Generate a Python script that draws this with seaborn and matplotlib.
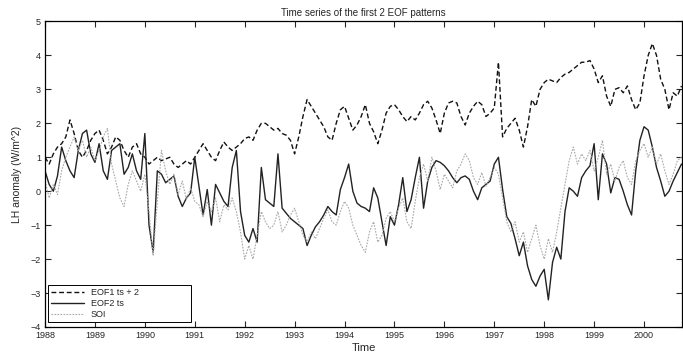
import numpy as np
import pandas as pd
import matplotlib
matplotlib.use("Agg")
import matplotlib.pyplot as plt
import seaborn as sns

# ---------------- data (monthly, starting Jan 1988) ----------------
start_year = 1988
eof1_offset = 2
eof1 = [-1.0, -1.2, -0.9, -0.7, -0.6, -0.4, 0.1, -0.3, -0.8, -1.0,
        -0.8, -0.5, -0.3, -0.2, -0.5, -0.9, -0.7, -0.4, -0.5, -0.8,
        -1.0, -0.7, -0.6, -0.9, -1.0, -1.2, -1.1, -1.0, -1.1, -1.05,
        -1.0, -1.2, -1.3, -1.2, -1.1, -1.2, -1.0, -0.8, -0.6, -0.8,
        -1.0, -1.1, -0.8, -0.55, -0.7, -0.8, -0.7, -0.6, -0.45, -0.4,
        -0.5, -0.2, 0.0, 0.0, -0.1, -0.2, -0.15, -0.3, -0.35, -0.5,
        -0.9, -0.4, 0.2, 0.7, 0.5, 0.3, 0.1, -0.1, -0.4, -0.5,
        0.0, 0.4, 0.5, 0.15, -0.2, -0.05, 0.2, 0.55, 0.0, -0.25,
        -0.6, -0.2, 0.3, 0.5, 0.55, 0.4, 0.2, 0.05, 0.2, 0.1,
        0.3, 0.55, 0.65, 0.45, 0.1, -0.3, 0.3, 0.6, 0.65, 0.6,
        0.2, -0.05, 0.3, 0.5, 0.65, 0.55, 0.2, 0.3, 0.45, 1.8,
        -0.4, -0.15, 0.0, 0.15, -0.2, -0.7, -0.1, 0.7, 0.5, 1.0,
        1.2, 1.3, 1.25, 1.2, 1.35, 1.45, 1.5, 1.6, 1.7, 1.8,
        1.8, 1.85, 1.6, 1.2, 1.4, 0.8, 0.5, 1.0, 1.05, 0.9,
        1.1, 0.7, 0.4, 0.6, 1.4, 2.0, 2.35, 2.0, 1.3, 1.0,
        0.4, 0.9, 0.8, 1.1]

eof2 = [0.6, 0.2, 0.0, 0.45, 1.3, 0.9, 0.6, 0.4, 1.2, 1.7,
        1.8, 1.1, 0.85, 1.4, 0.6, 0.35, 1.2, 1.3, 1.4, 0.5,
        0.7, 1.1, 0.6, 0.35, 1.7, -1.0, -1.8, 0.6, 0.5, 0.25,
        0.35, 0.45, -0.15, -0.45, -0.2, -0.05, 1.0, 0.15, -0.7, 0.05,
        -1.0, 0.2, -0.05, -0.3, -0.45, 0.7, 1.2, -0.6, -1.3, -1.5,
        -1.1, -1.5, 0.7, -0.25, -0.35, -0.45, 1.1, -0.5, -0.65, -0.8,
        -0.9, -1.0, -1.1, -1.6, -1.3, -1.05, -0.9, -0.7, -0.45, -0.6,
        -0.7, 0.05, 0.4, 0.8, 0.0, -0.35, -0.45, -0.5, -0.6, 0.1,
        -0.2, -0.9, -1.6, -0.75, -1.0, -0.4, 0.4, -0.6, -0.25, 0.4,
        1.0, -0.5, 0.3, 0.7, 0.9, 0.85, 0.75, 0.6, 0.4, 0.25,
        0.4, 0.45, 0.35, 0.0, -0.25, 0.1, 0.2, 0.3, 0.8, 1.0,
        0.05, -0.75, -0.95, -1.4, -1.9, -1.5, -2.2, -2.6, -2.8, -2.5,
        -2.3, -3.2, -2.1, -1.65, -2.0, -0.6, 0.1, 0.0, -0.15, 0.4,
        0.6, 0.75, 1.4, -0.25, 1.1, 0.8, -0.05, 0.4, 0.35, 0.0,
        -0.4, -0.7, 0.6, 1.5, 1.9, 1.8, 1.3, 0.7, 0.3, -0.15,
        0.0, 0.3, 0.55, 0.8]

soi = [0.3, -0.2, 0.2, -0.1, 0.6, 1.0, 1.3, 1.6, 1.2, 1.5,
       1.0, 1.3, 0.9, 1.2, 1.6, 1.85, 0.8, 0.3, -0.2, -0.45,
       0.2, 0.6, 0.3, 0.0, 0.5, -0.6, -1.9, -0.3, 1.2, 0.6,
       0.2, 0.5, -0.1, 0.3, -0.25, 0.1, -0.3, -0.4, -0.75, -0.3,
       -0.6, -0.2, -0.9, -0.4, -0.55, -0.2, -0.6, -1.2, -2.0, -1.6,
       -2.0, -1.3, -0.6, -0.9, -1.1, -1.0, -0.6, -1.2, -1.0, -0.7,
       -0.5, -0.9, -1.3, -1.5, -1.2, -1.4, -1.1, -0.8, -0.55, -0.9,
       -1.0, -0.6, -0.3, -0.5, -1.0, -1.3, -1.6, -1.8, -1.2, -0.9,
       -1.5, -1.3, -0.8, -0.6, -0.9, -0.5, -0.2, -0.9, -1.1, -0.3,
       0.4, 0.8, 0.3, 1.0, 0.6, 0.05, 0.5, 0.3, 0.1, 0.6,
       0.8, 1.1, 0.9, 0.4, 0.2, 0.55, 0.15, 0.4, 0.7, 0.5,
       -0.2, -0.9, -1.2, -0.9, -1.5, -1.2, -1.8, -1.4, -1.0, -1.6,
       -2.0, -1.4, -1.8, -1.2, -0.5, 0.2, 0.9, 1.3, 0.8, 1.1,
       0.9, 1.2, 0.6, 1.0, 1.5, 0.5, 0.8, 0.3, 0.7, 0.9,
       0.4, 0.2, 0.9, 1.2, 1.4, 1.0, 1.3, 0.8, 1.1, 0.6,
       0.2, 0.5, 0.9, 1.0]

year_ticks = list(range(1988, 2001))
series_labels = ["EOF1 ts + 2", "EOF2 ts", "SOI"]

# ---------------- plotting ----------------
sns.set_style("ticks")
plt.rcParams["font.family"] = ["Liberation Sans", "DejaVu Sans"]

n = len(eof1)
time = start_year + np.arange(n) / 12.0
df = pd.DataFrame({
    "time": time,
    "eof1p2": np.array(eof1) + eof1_offset,
    "eof2": eof2,
    "soi": soi,
})

fig = plt.figure(figsize=(6.83, 3.54), dpi=100)
ax = fig.add_axes([0.0659, 0.0763, 0.9326, 0.863])

sns.lineplot(data=df, x="time", y="eof1p2", ax=ax, color="#111111",
             linewidth=1.0, linestyle=(0, (3.5, 2)), label=series_labels[0])
sns.lineplot(data=df, x="time", y="eof2", ax=ax, color="#222222",
             linewidth=1.0, label=series_labels[1])
sns.lineplot(data=df, x="time", y="soi", ax=ax, color="#a8a8a8",
             linewidth=0.8, linestyle=(0, (1.5, 1.2)), label=series_labels[2])

ax.set_xlim(1988, 2000.76)
ax.set_ylim(-4, 5)
ax.set_xticks(year_ticks)
ax.set_xticklabels([str(y) for y in year_ticks])
ax.set_yticks(range(-4, 6))
ax.tick_params(direction="in", top=True, right=True, labelsize=6.5,
               length=4, width=0.8, pad=3)
for s in ax.spines.values():
    s.set_visible(True)
    s.set_linewidth(0.9)
    s.set_color("black")

ax.set_title("Time series of the first 2 EOF patterns", fontsize=7, pad=4)
ax.set_xlabel("Time", fontsize=8, labelpad=2)
ax.set_ylabel("LH anomaly (W/m^2)", fontsize=7.5, labelpad=6)

leg = ax.legend(loc="lower left", bbox_to_anchor=(0.004, 0.015, 0.225, 0.14),
                mode="expand", fontsize=6.5, frameon=True, fancybox=False,
                edgecolor="black", framealpha=1, borderpad=0.4,
                handlelength=3.6, labelspacing=0.2, borderaxespad=0.0)
leg.get_frame().set_linewidth(0.7)

fig.savefig("out.png", dpi=100)
